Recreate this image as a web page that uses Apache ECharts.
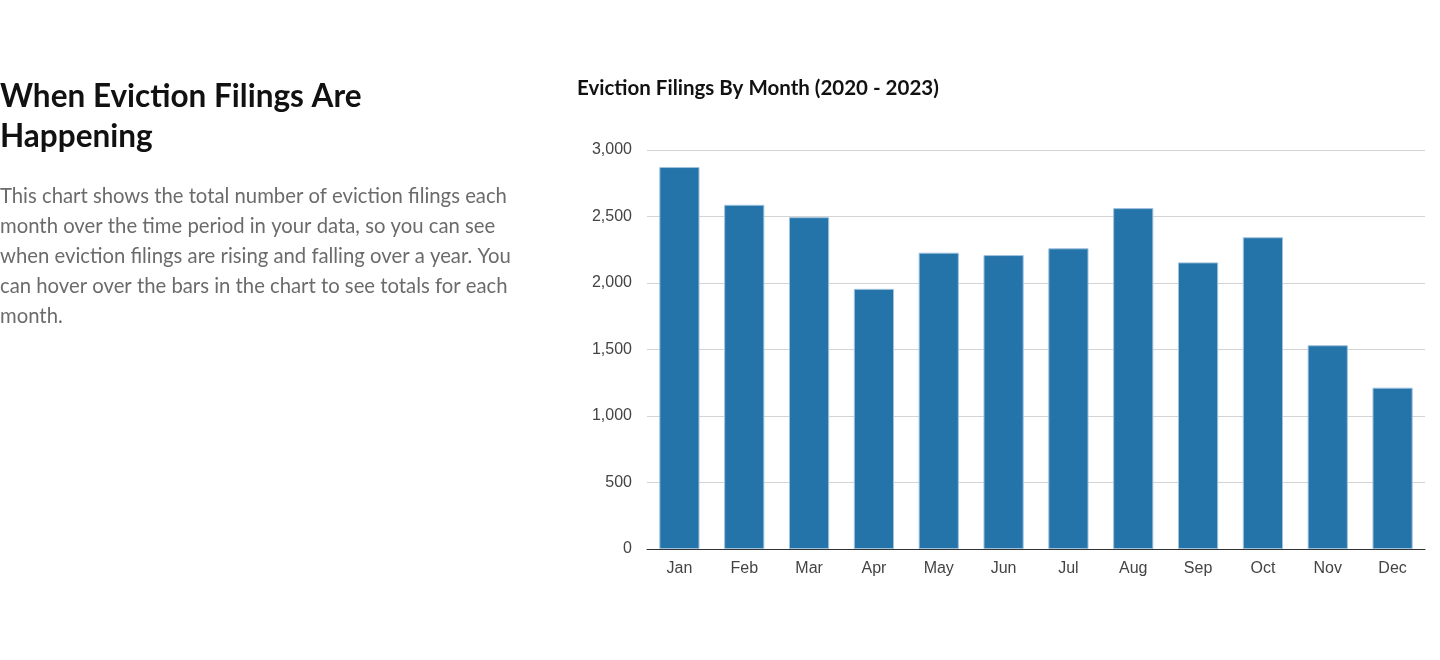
<!DOCTYPE html>
<html>
<head>
<meta charset="utf-8">
<script src="https://cdn.jsdelivr.net/npm/echarts@6/dist/echarts.min.js"></script>
<style>
html,body{margin:0;padding:0;background:#fff;}
#chart{width:1440px;height:660px;}
</style>
</head>
<body>
<div id="chart"></div>
<script>
const months = ['Jan','Feb','Mar','Apr','May','Jun','Jul','Aug','Sep','Oct','Nov','Dec'];
const filings = [2872, 2588, 2495, 1956, 2228, 2210, 2261, 2563, 2155, 2344, 1532, 1213];
const yTicks = [0, 500, 1000, 1500, 2000, 2500, 3000];
const headingLines = ['When Eviction Filings Are', 'Happening'];
const bodyLines = [
  'This chart shows the total number of eviction filings each',
  'month over the time period in your data, so you can see',
  'when eviction filings are rising and falling over a year. You',
  'can hover over the bars in the chart to see totals for each',
  'month.'
];
const chartTitle = 'Eviction Filings By Month (2020 - 2023)';

const chart = echarts.init(document.getElementById('chart'), null, {renderer:'canvas'});
chart.setOption({
  animation:false,
  backgroundColor:'#fff',
  title:{
    text: chartTitle,
    left: 572, top: 73,
    textStyle:{fontFamily:'Lato', fontWeight:'bold', fontSize:20.5, color:'#111'}
  },
  graphic:[
    {type:'text', left:0, top:77, style:{text: headingLines.join('\n'), font:'bold 31.5px Lato', fill:'#111', lineHeight:40}},
    {type:'text', left:0, top:181, style:{text: bodyLines.join('\n'), font:'20.3px Lato', fill:'#6b6b6b', lineHeight:30}}
  ],
  grid:{left:647, right:15, top:150, bottom:111, containLabel:false},
  xAxis:{
    type:'category', data: months,
    axisLine:{lineStyle:{color:'#333', width:1}},
    axisTick:{show:false},
    axisLabel:{color:'#444', fontFamily:'Liberation Sans', fontSize:16, margin:12}
  },
  yAxis:{
    type:'value', min: yTicks[0], max: yTicks[yTicks.length-1], interval: yTicks[1]-yTicks[0],
    axisLine:{show:false}, axisTick:{show:false},
    splitLine:{lineStyle:{color:'#d4d4d4', width:1}},
    axisLabel:{color:'#444', fontFamily:'Liberation Sans', fontSize:16, margin:15,
      formatter: v => v.toLocaleString('en-US')}
  },
  series:[{
    type:'bar', data: filings, barCategoryGap:'38%',
    itemStyle:{color:'#2574a9', borderColor:'#9fc3de', borderWidth:1}
  }]
});
</script>
</body>
</html>
